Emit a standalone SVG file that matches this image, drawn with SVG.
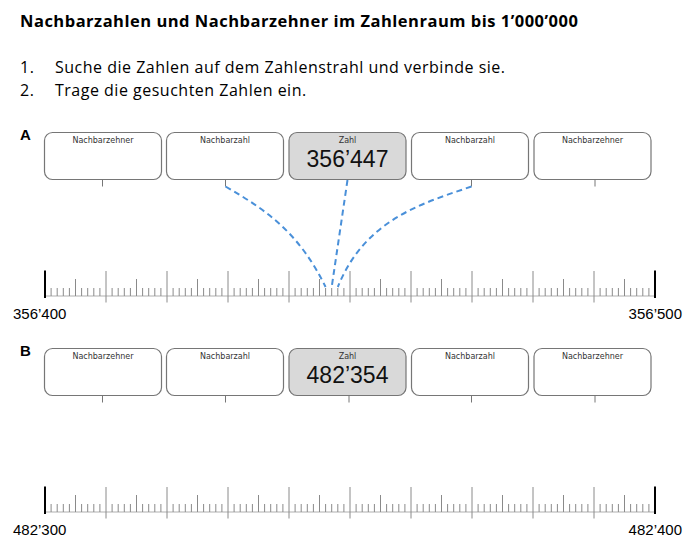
<svg xmlns="http://www.w3.org/2000/svg" xmlns:xlink="http://www.w3.org/1999/xlink" width="689" height="544" viewBox="0 0 689 544">
<style>
.title{font-family:"Open Sans","Liberation Sans",sans-serif;font-weight:700;font-size:16.5px;letter-spacing:0.5px;fill:#000}
.instr{font-family:"Open Sans","Liberation Sans",sans-serif;font-size:16px;letter-spacing:0.5px;fill:#000}
.sec{font-family:"Liberation Sans",Arial,sans-serif;font-weight:700;font-size:15px;fill:#000}
.box{fill:#fff;stroke:#767676;stroke-width:1.2}
.zbox{fill:#d9d9d9;stroke:#767676;stroke-width:1.2}
.lbl{font-family:"DejaVu Sans",sans-serif;font-size:8px;fill:#333;text-anchor:middle}
.big{font-family:"Liberation Sans",Arial,sans-serif;font-size:23px;fill:#111;text-anchor:middle}
.stub{stroke:#767676;stroke-width:1}
.tick{stroke:#8a8a8a;stroke-width:1;fill:none}
.base{stroke:#b0b0b0;stroke-width:1.2}
.end{stroke:#000;stroke-width:2}
.num{font-family:"Liberation Sans",Arial,sans-serif;font-size:15px;fill:#000}
.dash{fill:none;stroke:#4a90d9;stroke-width:2;stroke-dasharray:6 4}
</style>
<defs>
<path id="decade" class="tick" d="M6.1,288V296M12.2,288V296M18.3,288V296M24.4,288V296M30.5,279V296M36.6,288V296M42.7,288V296M48.8,288V296M54.9,288V296"/>
<g id="numline">
<line class="base" x1="45" y1="296" x2="655" y2="296"/>
<use xlink:href="#decade" x="45"/>
<use xlink:href="#decade" x="106"/>
<use xlink:href="#decade" x="167"/>
<use xlink:href="#decade" x="228"/>
<use xlink:href="#decade" x="289"/>
<use xlink:href="#decade" x="350"/>
<use xlink:href="#decade" x="411"/>
<use xlink:href="#decade" x="472"/>
<use xlink:href="#decade" x="533"/>
<use xlink:href="#decade" x="594"/>
<path class="tick" d="M106,271V302.5M167,271V302.5M228,271V302.5M289,271V302.5M350,271V302.5M411,271V302.5M472,271V302.5M533,271V302.5M594,271V302.5"/>
<path class="end" d="M45,270.5V298M655,270.5V298"/>
</g>
</defs>

<text class="title" x="20" y="27">Nachbarzahlen und Nachbarzehner im Zahlenraum bis 1’000’000</text>
<text class="instr" x="20" y="73">1.</text>
<text class="instr" x="55" y="73">Suche die Zahlen auf dem Zahlenstrahl und verbinde sie.</text>
<text class="instr" x="20" y="96">2.</text>
<text class="instr" x="55" y="96">Trage die gesuchten Zahlen ein.</text>

<g id="section-a">
<text class="sec" x="20" y="140">A</text>
<g id="a-nachbarzehner-1">
<rect class="box" x="44.5" y="132.5" width="117" height="47" rx="8"/>
<text class="lbl" x="103" y="143">Nachbarzehner</text>
<line class="stub" x1="102.5" y1="179.5" x2="102.5" y2="186.5"/>
</g>
<g id="a-nachbarzahl-1">
<rect class="box" x="166.5" y="132.5" width="117" height="47" rx="8"/>
<text class="lbl" x="225" y="143">Nachbarzahl</text>
<line class="stub" x1="225.5" y1="179.5" x2="225.5" y2="186.5"/>
</g>
<g id="a-zahl">
<rect class="zbox" x="289" y="132.5" width="117" height="47" rx="8"/>
<text class="lbl" x="347.5" y="143">Zahl</text>
<text class="big" x="347.5" y="167">356’447</text>
</g>
<g id="a-nachbarzahl-2">
<rect class="box" x="411.5" y="132.5" width="117" height="47" rx="8"/>
<text class="lbl" x="470" y="143">Nachbarzahl</text>
<line class="stub" x1="471.5" y1="179.5" x2="471.5" y2="186.5"/>
</g>
<g id="a-nachbarzehner-2">
<rect class="box" x="534" y="132.5" width="117" height="47" rx="8"/>
<text class="lbl" x="592.5" y="143">Nachbarzehner</text>
<line class="stub" x1="595" y1="179.5" x2="595" y2="186.5"/>
</g>
<g id="a-zahlenstrahl">
<use xlink:href="#numline"/>
<text class="num" x="13" y="319">356’400</text>
<text class="num" x="682" y="319" text-anchor="end">356’500</text>
</g>
</g>

<g id="connectors">
<path class="dash" d="M225.5,186.5C270,212 300,235 325.6,287"/>
<path class="dash" d="M347.5,180L331.7,287"/>
<path class="dash" d="M471.5,186.5C420,204 365,220 337.8,287"/>
</g>

<g id="section-b">
<text class="sec" x="20" y="356">B</text>
<g id="b-nachbarzehner-1">
<rect class="box" x="44.5" y="348.5" width="117" height="47" rx="8"/>
<text class="lbl" x="103" y="359">Nachbarzehner</text>
<line class="stub" x1="102.5" y1="395.5" x2="102.5" y2="402.5"/>
</g>
<g id="b-nachbarzahl-1">
<rect class="box" x="166.5" y="348.5" width="117" height="47" rx="8"/>
<text class="lbl" x="225" y="359">Nachbarzahl</text>
<line class="stub" x1="225.5" y1="395.5" x2="225.5" y2="402.5"/>
</g>
<g id="b-zahl">
<rect class="zbox" x="289" y="348.5" width="117" height="47" rx="8"/>
<text class="lbl" x="347.5" y="359">Zahl</text>
<text class="big" x="347.5" y="383">482’354</text>
<line class="stub" x1="349" y1="395.5" x2="349" y2="402.5"/>
</g>
<g id="b-nachbarzahl-2">
<rect class="box" x="411.5" y="348.5" width="117" height="47" rx="8"/>
<text class="lbl" x="470" y="359">Nachbarzahl</text>
<line class="stub" x1="471.5" y1="395.5" x2="471.5" y2="402.5"/>
</g>
<g id="b-nachbarzehner-2">
<rect class="box" x="534" y="348.5" width="117" height="47" rx="8"/>
<text class="lbl" x="592.5" y="359">Nachbarzehner</text>
<line class="stub" x1="595" y1="395.5" x2="595" y2="402.5"/>
</g>
<g id="b-zahlenstrahl">
<use xlink:href="#numline" y="216"/>
<text class="num" x="13" y="535">482’300</text>
<text class="num" x="682" y="535" text-anchor="end">482’400</text>
</g>
</g>
</svg>
